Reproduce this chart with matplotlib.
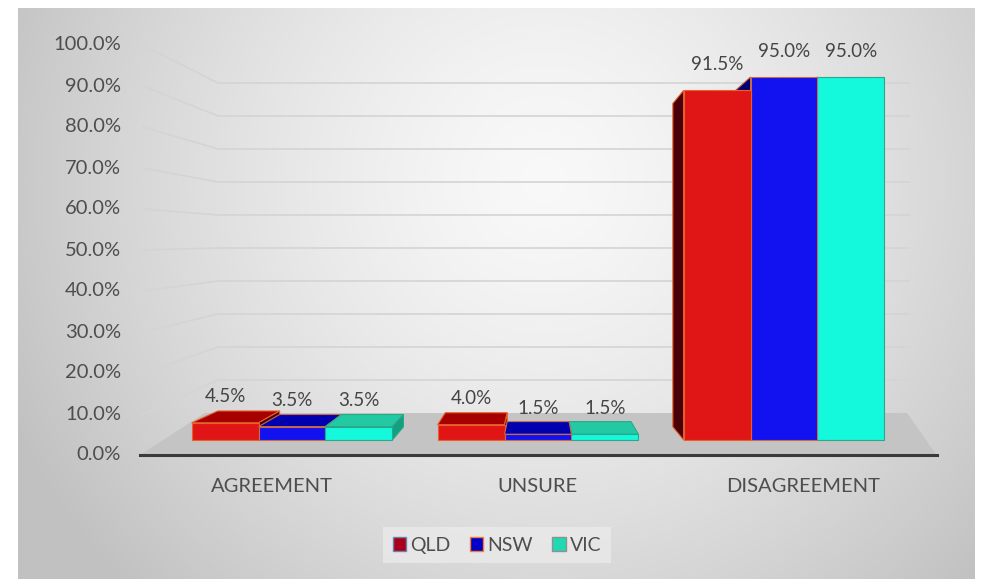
import numpy as np
import matplotlib.pyplot as plt
from matplotlib.patches import Polygon, Patch

plt.rcParams['font.family'] = ['Lato', 'DejaVu Sans']

# data
categories = ['AGREEMENT', 'UNSURE', 'DISAGREEMENT']
states = ['QLD', 'NSW', 'VIC']
qld = [4.5, 4.0, 91.5]
nsw = [3.5, 1.5, 95.0]
vic = [3.5, 1.5, 95.0]
series = [qld, nsw, vic]
yticks = [0, 10, 20, 30, 40, 50, 60, 70, 80, 90, 100]

front_colors = ['#E01616', '#1212F0', '#14F8DC']
top_colors = ['#A60000', '#0000AE', '#22C9A3']
side_colors = ['#4A0008', '#000070', '#12A080']
edge_colors = ['#E8602A', '#C86A48', '#2AA88A']
legend_colors = ['#A8001C', '#0000C8', '#22D8B2']
legend_edges = ['#7080B0', '#F08030', '#909090']

# pseudo 3d settings (data units: x = category, y = percent on the front scale)
bar_w = 0.272
bar_base = 3.66
bar_scale = 0.932
vp = np.array([1.008, 46.3])
k = 0.925

fig = plt.figure(figsize=(9.87, 5.79), dpi=100)
fig.patch.set_facecolor('white')

# gradient panel
bg = fig.add_axes([18 / 987, 0, 957 / 987, 571 / 579])
u, w = np.meshgrid(np.linspace(0, 1, 300), np.linspace(0, 1, 200))
d = np.sqrt(((u - 0.55) / 0.6) ** 2 + ((w - 0.3) / 1.0) ** 2)
g = np.clip(0.975 - 0.21 * d ** 1.4, 0.76, 1)
bg.imshow(np.dstack([g, g, g]), aspect='auto', extent=[0, 1, 0, 1], origin='upper')
bg.axis('off')

ax = fig.add_axes([0, 0, 1, 1])
ax.set_xlim(-292 / 246, 695 / 246)
ax.set_ylim(-124 / 4.1, 455 / 4.1)
ax.axis('off')
ax.patch.set_alpha(0)

# back wall gridlines
for t in yticks[1:]:
    vb = 10.24 + 0.805 * t
    ax.plot([-0.606, -0.301, 2.51], [t, vb, vb], color='#D4D4D4', lw=1.2, zorder=1)

# floor
floor = Polygon([(-0.618, 0), (2.62, 0), (2.50, 10.24), (-0.354, 10.24)],
                closed=True, facecolor='#C4C4C4', edgecolor='none', zorder=2)
ax.add_patch(floor)
ax.plot([-0.618, 2.62], [0, 0], color='#3A3A3A', lw=2.2, zorder=3)


def back(p):
    return tuple(vp + (np.array(p) - vp) * k)


bars = []
for i in range(len(categories)):
    for j in range(len(states)):
        xl = i + (j - 1.5) * bar_w
        bars.append((xl, xl + bar_w, series[j][i], j))
bars.sort(key=lambda b: -abs((b[0] + b[1]) / 2 - vp[0]))

z = 4
for xl, xr, val, j in bars:
    vt = bar_base + val * bar_scale
    fl_b, fr_b = (xl, bar_base), (xr, bar_base)
    fl_t, fr_t = (xl, vt), (xr, vt)
    faces = []
    if vt < vp[1]:
        faces.append(([fl_t, fr_t, back(fr_t), back(fl_t)], top_colors[j]))
    if xl > vp[0]:
        faces.append(([fl_b, fl_t, back(fl_t), back(fl_b)], side_colors[j]))
    if xr < vp[0]:
        faces.append(([fr_b, fr_t, back(fr_t), back(fr_b)], side_colors[j]))
    faces.append(([fl_b, fr_b, fr_t, fl_t], front_colors[j]))
    for pts, c in faces:
        ax.add_patch(Polygon(pts, closed=True, facecolor=c, edgecolor=edge_colors[j],
                             lw=0.8, zorder=z))
        z += 1

# data labels
for i in range(len(categories)):
    for j in range(len(states)):
        val = series[j][i]
        xc = i + (j - 1) * bar_w
        ax.text(xc, bar_base + val * bar_scale + 6.3, f'{val:.1f}%', ha='center',
                va='center', fontsize=13.5, color='#444444', zorder=100)

# y tick labels
for t in yticks:
    ax.text(-0.695, t, f'{t:.1f}%', ha='right', va='center', fontsize=14.5,
            color='#4E4E4E', zorder=100)

# category labels
for i, cat in enumerate(categories):
    ax.text(vp[0] + (i - vp[0]) * 1.08, -7.8, cat, ha='center', va='center',
            fontsize=14.5, color='#4E4E4E', zorder=100)

handles = [Patch(facecolor=legend_colors[j], edgecolor=legend_edges[j], lw=1, label=states[j])
           for j in range(len(states))]
leg = fig.legend(handles=handles, loc='center', bbox_to_anchor=(0.5035, 0.0587), ncol=3,
                 fontsize=14, frameon=True, fancybox=False, handlelength=0.7,
                 handleheight=0.7, handletextpad=0.2, columnspacing=1.0,
                 borderpad=0.5, labelcolor='#4E4E4E')
leg.get_frame().set_facecolor('#EAEAEA')
leg.get_frame().set_edgecolor('none')

fig.savefig('out.png', dpi=100)
